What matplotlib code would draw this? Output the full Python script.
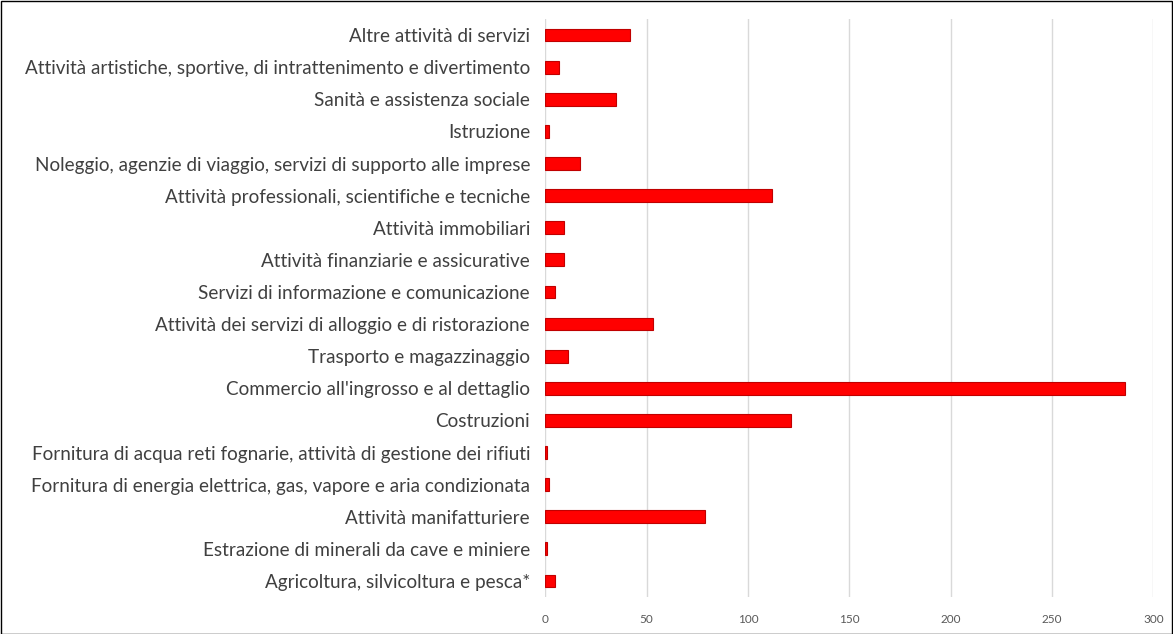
import matplotlib
matplotlib.use("Agg")
import matplotlib.pyplot as plt
from matplotlib.patches import Rectangle

categories = [
    "Agricoltura, silvicoltura e pesca*",
    "Estrazione di minerali da cave e miniere",
    "Attività manifatturiere",
    "Fornitura di energia elettrica, gas, vapore e aria condizionata",
    "Fornitura di acqua reti fognarie, attività di gestione dei rifiuti",
    "Costruzioni",
    "Commercio all'ingrosso e al dettaglio",
    "Trasporto e magazzinaggio",
    "Attività dei servizi di alloggio e di ristorazione",
    "Servizi di informazione e comunicazione",
    "Attività finanziarie e assicurative",
    "Attività immobiliari",
    "Attività professionali, scientifiche e tecniche",
    "Noleggio, agenzie di viaggio, servizi di supporto alle imprese",
    "Istruzione",
    "Sanità e assistenza sociale",
    "Attività artistiche, sportive, di intrattenimento e divertimento",
    "Altre attività di servizi",
]
values = [5, 1, 79, 2, 1, 121, 286, 11, 53, 5, 9, 9, 112, 17, 2, 35, 7, 42]
xticks = [0, 50, 100, 150, 200, 250, 300]

plt.rcParams['font.family'] = ['Lato', 'DejaVu Sans']

fig = plt.figure(figsize=(11.73, 6.34), dpi=100)
W, H = 1173, 634
ax = fig.add_axes([545.3 / W, 1 - 597 / H, (1153.3 - 545.3) / W, (597 - 19) / H])

y = list(range(len(categories)))
ax.barh(y, values, height=0.4, color='#FF0000', edgecolor='#C00000', linewidth=0.8, zorder=3)
ax.set_xlim(0, 300)
ax.set_ylim(-0.5, len(categories) - 0.5)
ax.set_xticks(xticks)
ax.set_xticklabels([str(t) for t in xticks], fontsize=8.5, color='#595959')
ax.set_yticks(y)
ax.set_yticklabels(categories, fontsize=13.6, color='#404040')
ax.tick_params(axis='both', length=0)
ax.tick_params(axis='x', pad=12)
ax.tick_params(axis='y', pad=11)
ax.grid(axis='x', color='#D9D9D9', linewidth=1, zorder=0)
for s in ax.spines.values():
    s.set_visible(False)

fig.patches.append(Rectangle((0.5 / W, 0.5 / H), 1 - 1.5 / W, 1 - 1.5 / H,
                             transform=fig.transFigure, fill=False,
                             edgecolor='black', linewidth=1))

fig.savefig("out.png", dpi=100)
